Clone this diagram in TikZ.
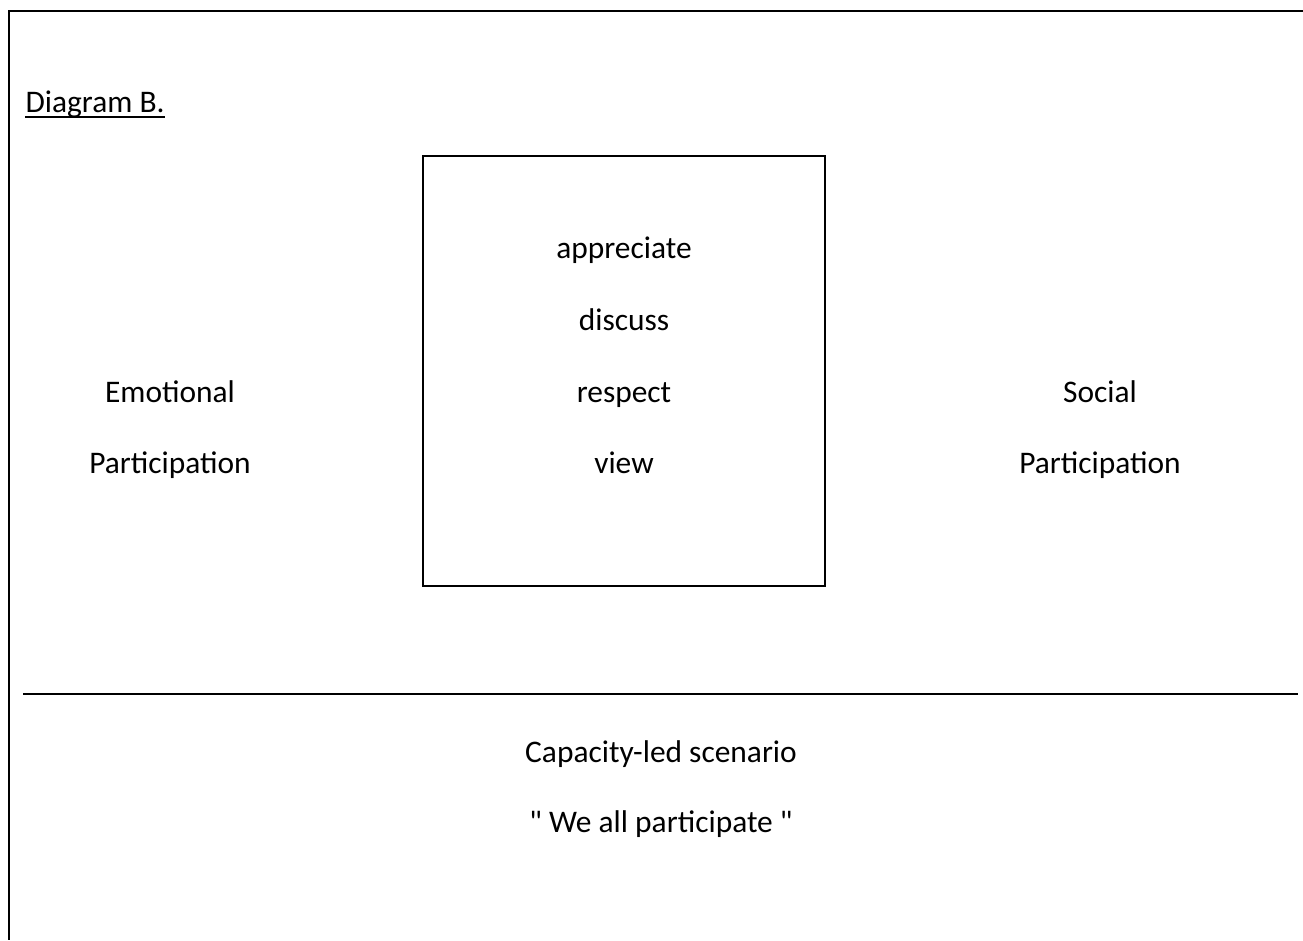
\documentclass[tikz,border=0pt]{standalone}
\usepackage{fontspec}
\setmainfont{Carlito}[Ligatures=TeXOff]
\begin{document}
\begin{tikzpicture}[x=0.35pt,y=-0.35pt]
	\tikzstyle{word}=[anchor=base,inner sep=0,font=\fontsize{11}{13}\selectfont]
	\useasboundingbox (0,0) rectangle (1303,940);

	% page frame, only the top and left edges show
	\coordinate (corner) at (9,11);
	\coordinate (topend) at (1303,11);
	\coordinate (leftend) at (9,940);
	\draw[line width=0.9pt] (topend) -- (corner) -- (leftend);

	\node[word,anchor=base west] (title) at (25,112) {Diagram B.};
	\draw[line width=0.7pt] ([yshift=-1.8pt]title.base west) -- ([yshift=-1.8pt]title.base east);

	% centre box with its four verbs
	\node[draw,line width=0.8pt,minimum width=140.7pt,minimum height=150.5pt,inner sep=0] (box) at (624,371) {};
	\foreach \w/\y [count=\i] in {appreciate/258,discuss/330,respect/402,view/473}
		\node[word] (verb\i) at (624,\y) {\w};

	\node[word] (emotional) at (170,402) {Emotional};
	\node[word] (emotionalpart) at (170,473) {Participation};
	\node[word] (social) at (1100,402) {Social};
	\node[word] (socialpart) at (1100,473) {Participation};

	\coordinate (ruleleft) at (23,694);
	\coordinate (ruleright) at (1298,694);
	\draw[line width=0.9pt] (ruleleft) -- (ruleright);

	\node[word] (scenario) at (661,762) {Capacity-led scenario};
	\node[word] (motto) at (661,832) {" We all participate "};
\end{tikzpicture}
\end{document}
